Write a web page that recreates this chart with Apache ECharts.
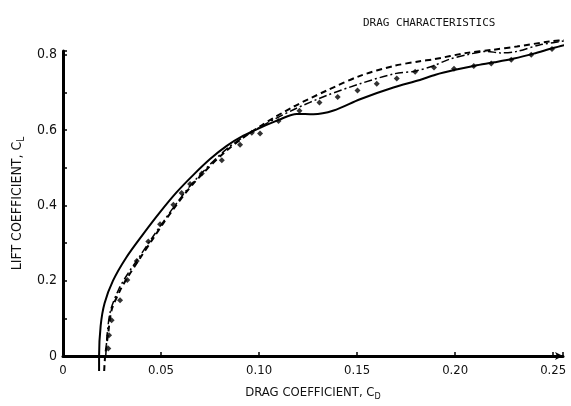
<!DOCTYPE html>
<html>
<head>
<meta charset="utf-8">
<script src="https://cdn.jsdelivr.net/npm/echarts@6.0.0/dist/echarts.min.js"></script>
<style>
  html, body { margin: 0; padding: 0; background: #fff; }
  #chart { width: 571px; height: 406px; }
</style>
</head>
<body>
<div id="chart"></div>
<script>
// x tick labels (drag coefficient) and y tick labels (lift coefficient)
var xTickVals = [0, 0.05, 0.10, 0.15, 0.20, 0.25];
var xTickLabels = ["0", "0.05", "0.10", "0.15", "0.20", "0.25"];
var yTickVals = [0, 0.2, 0.4, 0.6, 0.8];
var yTickLabels = ["0", "0.2", "0.4", "0.6", "0.8"];

// solid curve  [CD, CL]
var solidCurve = [
	[0.0184, -0.04], [0.0184, 0], [0.0192, 0.08], [0.0212, 0.14], [0.0255, 0.2],
	[0.0322, 0.261], [0.0405, 0.321], [0.0495, 0.382], [0.058, 0.435],
	[0.0665, 0.481], [0.075, 0.523], [0.0835, 0.558], [0.092, 0.585],
	[0.1005, 0.606], [0.11, 0.627], [0.1192, 0.643], [0.1277, 0.642],
	[0.138, 0.652], [0.1515, 0.682], [0.1685, 0.713], [0.182, 0.733],
	[0.19, 0.747], [0.2, 0.76], [0.21, 0.771], [0.22, 0.78], [0.23, 0.79],
	[0.24, 0.803], [0.25, 0.818], [0.259, 0.83]
];

// dashed curve
var dashedCurve = [
	[0.021, -0.04], [0.0215, 0], [0.0231, 0.062], [0.0248, 0.122], [0.0291, 0.174],
	[0.0333, 0.212], [0.0393, 0.26], [0.0461, 0.313], [0.0512, 0.353],
	[0.0563, 0.39], [0.0665, 0.458], [0.0835, 0.546], [0.1005, 0.61],
	[0.1175, 0.662], [0.1345, 0.705], [0.1515, 0.744], [0.1685, 0.77],
	[0.182, 0.783], [0.189, 0.788], [0.206, 0.805], [0.219, 0.813],
	[0.2315, 0.822], [0.248, 0.835], [0.259, 0.841]
];

// dash-dot curve
var dashDotCurve = [
	[0.0218, 0], [0.0226, 0.062], [0.0243, 0.122], [0.0285, 0.178], [0.033, 0.218],
	[0.039, 0.264], [0.046, 0.318], [0.0512, 0.357], [0.056, 0.392],
	[0.0665, 0.462], [0.0835, 0.55], [0.1005, 0.608], [0.1175, 0.654],
	[0.1345, 0.692], [0.1515, 0.723], [0.1685, 0.749], [0.18, 0.757],
	[0.189, 0.771], [0.197, 0.788], [0.206, 0.8], [0.216, 0.809],
	[0.223, 0.805], [0.2315, 0.809], [0.243, 0.826], [0.259, 0.839]
];

// test points
var testPoints = [
	[0.0231, 0.02], [0.0235, 0.055], [0.0248, 0.095], [0.0291, 0.148],
	[0.0328, 0.202], [0.0376, 0.252], [0.0435, 0.304], [0.0495, 0.35],
	[0.0563, 0.402], [0.0605, 0.433], [0.0648, 0.457], [0.0708, 0.485],
	[0.081, 0.52], [0.0903, 0.561], [0.0963, 0.593], [0.1005, 0.591],
	[0.1099, 0.624], [0.1206, 0.651], [0.1308, 0.673], [0.1401, 0.688],
	[0.1502, 0.705], [0.16, 0.723], [0.1702, 0.737], [0.1796, 0.755],
	[0.1892, 0.766], [0.1994, 0.763], [0.2095, 0.77], [0.2184, 0.777],
	[0.2286, 0.787], [0.2388, 0.8], [0.2494, 0.815]
];

function pickLabel(vals, labels, v) {
	for (var i = 0; i < vals.length; i++) {
		if (Math.abs(vals[i] - v) < 1e-6) return labels[i];
	}
	return "";
}

var font = "'DejaVu Sans Condensed', 'Liberation Sans Narrow', sans-serif";
var chart = echarts.init(document.getElementById("chart"));

var option = {
	backgroundColor: "#fff",
	animation: false,
	title: {
		text: "DRAG CHARACTERISTICS",
		left: 358,
		top: 13,
		textStyle: {
			fontFamily: "'DejaVu Sans Mono', monospace",
			fontSize: 11,
			fontWeight: "normal",
			color: "#111",
		},
	},
	grid: { left: 63, right: 8, top: 51, bottom: 42 },
	xAxis: {
		type: "value",
		min: 0,
		max: 0.255,
		interval: 0.05,
		name: "DRAG COEFFICIENT, C{s|D}",
		nameLocation: "middle",
		nameGap: 29,
		nameTextStyle: {
			fontFamily: font,
			fontSize: 13,
			color: "#111",
			rich: { s: { fontSize: 9, padding: [7, 0, 0, 0], fontFamily: font, color: "#111" } },
		},
		axisLine: {
			lineStyle: { color: "#000", width: 3 },
			symbol: ["none", "arrow"],
			symbolSize: [6, 8],
		},
		axisTick: { inside: true, length: 4, lineStyle: { color: "#000", width: 1.5 } },
		axisLabel: {
			margin: 8,
			fontFamily: font,
			fontSize: 13,
			color: "#111",
			formatter: function (v) { return pickLabel(xTickVals, xTickLabels, v); },
		},
		splitLine: { show: false },
	},
	yAxis: {
		type: "value",
		min: 0,
		max: 0.81,
		interval: 0.1,
		name: "LIFT COEFFICIENT, C{s|L}",
		nameLocation: "middle",
		nameGap: 34,
		nameRotate: 90,
		nameTextStyle: {
			fontFamily: font,
			fontSize: 14,
			color: "#111",
			rich: { s: { fontSize: 10, padding: [7, 0, 0, 0], fontFamily: font, color: "#111" } },
		},
		axisLine: { lineStyle: { color: "#000", width: 3 } },
		axisTick: { inside: true, length: 4, lineStyle: { color: "#000", width: 1.5 } },
		axisLabel: {
			margin: 6,
			fontFamily: font,
			fontSize: 14,
			color: "#111",
			formatter: function (v) { return pickLabel(yTickVals, yTickLabels, v); },
		},
		splitLine: { show: false },
	},
	series: [
		{
			type: "line",
			data: solidCurve,
			symbol: "none",
			smooth: 0.3,
			clip: false,
			lineStyle: { color: "#000", width: 2 },
		},
		{
			type: "line",
			data: dashedCurve,
			symbol: "none",
			smooth: 0.3,
			clip: false,
			lineStyle: { color: "#000", width: 2, type: [6, 4] },
		},
		{
			type: "line",
			data: dashDotCurve,
			symbol: "none",
			smooth: 0.3,
			clip: false,
			lineStyle: { color: "#000", width: 1.5, type: [8, 3, 2, 3] },
		},
		{
			type: "scatter",
			data: testPoints,
			symbol: "diamond",
			symbolSize: 6,
			clip: false,
			itemStyle: { color: "#000" },
		},
	],
};
chart.setOption(option);
</script>
</body>
</html>
